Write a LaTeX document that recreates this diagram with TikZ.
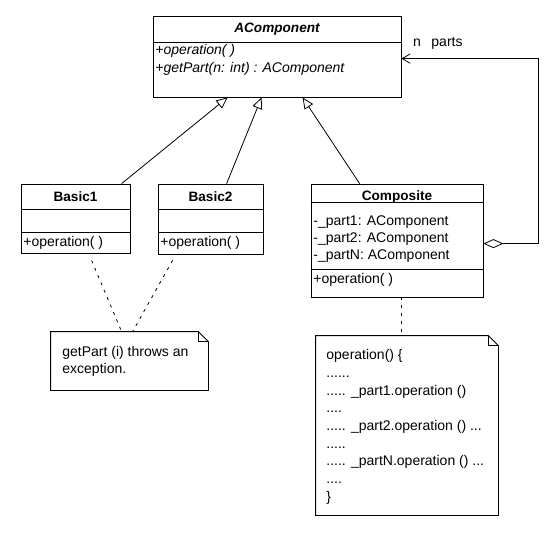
\documentclass[tikz,border=0pt]{standalone}
\usepackage{fontspec}
\setmainfont{Liberation Sans}
\usetikzlibrary{arrows.meta,calc,fit}
\begin{document}
\begin{tikzpicture}[x=0.75pt,y=-0.75pt,line width=0.6pt,
  font=\fontsize{10.5}{12.75}\selectfont,
  cls/.style={draw,inner sep=0pt},
  ttl/.style={font=\fontsize{10.2}{11}\selectfont\bfseries},
  mbr/.style={anchor=west,inner sep=0pt},
  inherit/.style={-{Triangle[open,length=8.5pt,width=7.5pt]}},
  aggr/.style={{Diamond[open,length=15pt,width=6.75pt]}-{Straight Barb[length=6pt,width=7pt]}},
  anchorline/.style={dash pattern=on 2.25pt off 3.75pt}]
  \useasboundingbox (0,0) rectangle (554,540);
  % abstract class
  \node [cls,fit={(153,16) (401,97)}] (acomp) {};
  \draw (acomp.west |- 0,42) -- (acomp.east |- 0,42);
  \node [ttl,font=\fontsize{10.2}{11}\selectfont\bfseries\itshape] at (acomp.center |- 0,29) {AComponent};
  \node [mbr,font=\fontsize{10.5}{11}\selectfont\itshape] at (155,51) {+operation( )};
  \node [mbr,font=\fontsize{10.5}{11}\selectfont\itshape] at (155,69) {+getPart(n: int) : AComponent};
  % leaves
  \node [cls,fit={(21,184) (130,253)}] (basic1) {};
  \draw (basic1.west |- 0,209) -- (basic1.east |- 0,209);
  \draw (basic1.west |- 0,232) -- (basic1.east |- 0,232);
  \node [ttl] at (basic1.center |- 0,197) {Basic1};
  \node [mbr] at (23,243) {+operation( )};
  \node [cls,fit={(158,184) (263,254)}] (basic2) {};
  \draw (basic2.west |- 0,209) -- (basic2.east |- 0,209);
  \draw (basic2.west |- 0,232) -- (basic2.east |- 0,232);
  \node [ttl] at (basic2.center |- 0,197) {Basic2};
  \node [mbr] at (160,243) {+operation( )};
  % composite
  \node [cls,fit={(311,184) (483,297)}] (comp) {};
  \draw (comp.west |- 0,202) -- (comp.east |- 0,202);
  \draw (comp.west |- 0,269) -- (comp.east |- 0,269);
  \node [ttl] at (comp.center |- 0,197) {Composite};
  \node [mbr] at (313,222) {-\_part1: AComponent};
  \node [mbr] at (313,239) {-\_part2: AComponent};
  \node [mbr] at (313,256) {-\_partN: AComponent};
  \node [mbr] at (313,280) {+operation( )};
  % generalisations
  \draw [inherit] ($(basic1.north west)+(101,0)$) -- ($(acomp.south west)+(75,0)$);
  \draw [inherit] ($(basic2.north west)+(69,0)$) -- ($(acomp.south west)+(109,0)$);
  \draw [inherit] ($(comp.north west)+(49,0)$) -- ($(acomp.south west)+(150,0)$);
  % aggregation
  \draw [aggr] ($(comp.north east)+(0,60)$) -| ($(acomp.north east)+(137,43)$) -- ($(acomp.north east)+(0,43)$);
  \node (mult) at (417,43) {n};
  \node (role) at (447,43) {parts};
  % notes
  \node [inner sep=0pt,fit={(51,332) (208,390)}] (note1) {};
  \draw (note1.north west) -- ($(note1.north east)+(-10,0)$) -- ($(note1.north east)+(0,10)$)
    -- (note1.south east) -- (note1.south west) -- cycle;
  \draw ($(note1.north east)+(-10,0)$) |- ($(note1.north east)+(0,10)$);
  \node [inner sep=0pt,anchor=north west,align=left] at (62,346) {getPart (i) throws an\\exception.};
  \node [inner sep=0pt,fit={(316,336) (498,515)}] (note2) {};
  \draw (note2.north west) -- ($(note2.north east)+(-10,0)$) -- ($(note2.north east)+(0,10)$)
    -- (note2.south east) -- (note2.south west) -- cycle;
  \draw ($(note2.north east)+(-10,0)$) |- ($(note2.north east)+(0,10)$);
  \node [inner sep=0pt,anchor=north west,align=left,font=\fontsize{10.5}{13.3}\selectfont] at (326,349)
    {operation() \{\\......\\..... \_part1.operation ()\\....\\..... \_part2.operation () ...\\.....\\..... \_partN.operation () ...\\....\\\}};
  % note anchors
  \draw [anchorline] ($(basic1.south west)+(71,7)$) -- ($(note1.north west)+(71,0)$);
  \draw [anchorline] ($(basic2.south west)+(15,6)$) -- ($(note1.north west)+(82,0)$);
  \draw [anchorline] ($(comp.south west)+(91,0)$) -- ($(note2.north west)+(86,0)$);
\end{tikzpicture}
\end{document}
